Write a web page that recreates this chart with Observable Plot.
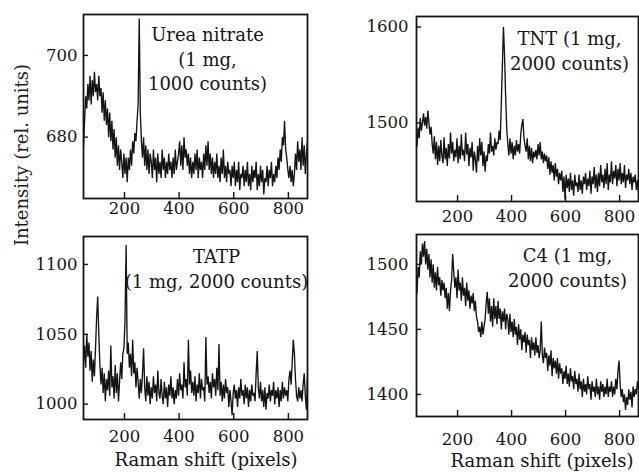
<!DOCTYPE html>
<html><head><meta charset="utf-8">
<script src="https://cdn.jsdelivr.net/npm/d3@7"></script>
<script src="https://cdn.jsdelivr.net/npm/@observablehq/plot@0.6"></script>
<style>
body{margin:0;background:#fff;}
#wrap{position:relative;width:639px;height:472px;overflow:hidden;background:#fff;font-family:"DejaVu Serif",serif;color:#1a1a1a;}
.p{position:absolute;}
#ylab{position:absolute;left:21px;top:155px;transform:translate(-50%,-50%) rotate(-90deg);font-size:18px;white-space:nowrap;}
</style></head><body><div id="wrap"><div id="ylab">Intensity (rel. units)</div></div>
<script>
// Raman shift sampling (pixels)
const shift = [50,54,58,62,66,70,74,78,82,86,
90,94,98,102,106,110,114,118,122,126,
130,134,138,142,146,150,154,158,162,166,
170,174,178,182,186,190,194,198,202,206,
210,214,218,222,226,230,234,238,242,246,
250,254,258,262,266,270,274,278,282,286,
290,294,298,302,306,310,314,318,322,326,
330,334,338,342,346,350,354,358,362,366,
370,374,378,382,386,390,394,398,402,406,
410,414,418,422,426,430,434,438,442,446,
450,454,458,462,466,470,474,478,482,486,
490,494,498,502,506,510,514,518,522,526,
530,534,538,542,546,550,554,558,562,566,
570,574,578,582,586,590,594,598,602,606,
610,614,618,622,626,630,634,638,642,646,
650,654,658,662,666,670,674,678,682,686,
690,694,698,702,706,710,714,718,722,726,
730,734,738,742,746,750,754,758,762,766,
770,774,778,782,786,790,794,798,802,806,
810,814,818,822,826,830,834,838,842,846,
850,854,858,862,866,870];

const ureaNitrate = [678,684,690,687,693,689,695,688,694,690,
696,691,693,689,695,690,692,686,691,684,
689,683,687,680,686,679,684,677,682,675,
680,673,678,672,677,674,670,676,671,675,
669,675,672,677,673,679,676,681,679,684,
688,709,686,679,675,680,673,678,672,677,
671,676,674,670,677,672,675,669,676,671,
674,670,677,672,675,670,674,671,676,672,
674,670,675,671,677,672,674,676,679,673,
678,672,680,675,677,673,676,671,675,670,
674,671,676,672,677,670,675,672,674,670,
676,672,678,673,679,672,676,671,675,670,
674,671,676,670,673,669,675,671,677,670,
673,669,674,671,672,668,673,670,674,668,
672,669,674,667,671,670,673,668,672,669,
674,668,671,667,673,669,672,670,674,667,
671,668,673,669,672,666,670,669,673,668,
672,670,674,668,671,669,673,670,675,672,
677,674,680,678,684,677,675,672,670,673,
669,672,668,671,676,672,679,674,677,672,
680,673,678,671,676,679];

const tnt = [1476,1495,1484,1505,1492,1500,1510,1497,1506,1494,
1513,1500,1488,1496,1478,1468,1486,1462,1480,1456,
1476,1460,1482,1466,1458,1485,1462,1474,1455,1478,
1463,1490,1468,1480,1460,1472,1464,1484,1458,1476,
1462,1488,1466,1472,1460,1490,1467,1478,1455,1474,
1464,1480,1450,1470,1462,1448,1476,1460,1484,1466,
1480,1455,1470,1449,1466,1460,1478,1468,1490,1470,
1476,1466,1484,1472,1480,1478,1492,1482,1520,1560,
1600,1570,1528,1495,1478,1466,1484,1468,1480,1462,
1476,1466,1482,1470,1478,1468,1488,1498,1504,1484,
1476,1470,1484,1462,1476,1460,1474,1458,1470,1464,
1472,1462,1478,1466,1480,1462,1470,1458,1468,1460,
1466,1452,1464,1446,1460,1448,1456,1440,1458,1444,
1452,1436,1448,1440,1450,1428,1444,1420,1446,1432,
1442,1428,1448,1430,1440,1424,1446,1434,1438,1428,
1446,1430,1440,1426,1444,1436,1448,1430,1442,1434,
1450,1426,1444,1436,1454,1432,1446,1428,1448,1434,
1456,1438,1446,1432,1452,1436,1458,1430,1446,1438,
1460,1436,1450,1442,1456,1434,1452,1440,1458,1436,
1448,1438,1456,1432,1446,1440,1452,1436,1448,1430,
1444,1438,1446,1430,1440,1428];

const tatp = [1030,1042,1026,1050,1034,1044,1024,1038,1016,1032,
1020,1040,1062,1077,1050,1028,1014,1026,1008,1022,
1002,1018,1010,1024,1006,1042,1012,1020,1004,1028,
1008,1022,1002,1016,1030,1018,1036,1040,1060,1114,
1036,1044,1026,1036,1020,1046,1022,1030,1012,1026,
1016,1004,1018,1008,1022,1040,1012,1002,1020,1006,
1016,1000,1012,1004,1020,1008,1014,1002,1024,1008,
1004,1018,1006,1000,1016,1004,1012,998,1014,1006,
1020,1004,1012,1000,1010,1004,1018,1006,1022,1010,
1014,1004,1030,1012,1018,1006,1046,1014,1024,1008,
1016,1006,1020,1002,1014,1008,1022,1004,1018,1010,
1012,1002,1048,1014,1020,1008,1016,1004,1022,1012,
1018,1006,1026,1010,1043,1006,1016,1002,1014,1004,
1018,1008,1012,998,1010,1002,992,1008,1014,1004,
1010,998,1012,1004,1018,1006,1010,1000,1014,1004,
1012,998,1010,1002,1014,1006,1008,1002,1022,1038,
1012,1004,1016,1002,1010,998,1012,996,1008,1004,
1014,1002,1010,1006,1016,1000,1010,1004,1012,998,
1010,1002,1016,1004,1012,1006,1010,1002,1018,1024,
1014,1030,1046,1036,1018,1006,1002,1012,1004,1010,
1002,1014,1022,1006,996,1020];

const c4 = [1478,1498,1490,1510,1500,1516,1506,1518,1500,1512,
1496,1508,1490,1504,1486,1500,1482,1494,1480,1498,
1484,1490,1476,1488,1480,1486,1474,1482,1466,1478,
1464,1480,1488,1508,1494,1482,1490,1474,1496,1480,
1486,1472,1490,1476,1482,1468,1486,1472,1480,1466,
1476,1470,1478,1464,1472,1460,1456,1448,1452,1444,
1456,1446,1452,1458,1470,1479,1462,1474,1456,1468,
1452,1474,1458,1468,1454,1472,1458,1466,1450,1464,
1456,1466,1450,1462,1458,1446,1462,1448,1456,1444,
1458,1446,1452,1438,1454,1442,1450,1434,1446,1440,
1448,1432,1446,1438,1442,1428,1444,1434,1440,1430,
1444,1432,1438,1428,1434,1456,1430,1424,1436,1428,
1432,1418,1430,1422,1434,1414,1428,1420,1426,1416,
1428,1412,1424,1416,1420,1408,1418,1412,1422,1408,
1416,1406,1420,1410,1414,1404,1418,1408,1412,1402,
1416,1404,1410,1398,1412,1402,1408,1400,1414,1404,
1408,1396,1410,1402,1406,1398,1412,1400,1406,1396,
1410,1402,1408,1398,1406,1400,1412,1398,1406,1402,
1410,1398,1406,1400,1412,1404,1418,1426,1408,1398,
1404,1394,1400,1388,1398,1392,1404,1396,1402,1390,
1406,1398,1404,1400,1410,1404];

const xTicks = [200,400,600,800];
const ureaTicks = [680,700];
const tntTicks = [1500,1600];
const tatpTicks = [1000,1050,1100];
const c4Ticks = [1400,1450,1500];

const titles = {
  urea: "Urea nitrate\n(1 mg,\n1000 counts)",
  tnt: "TNT (1 mg,\n2000 counts)",
  tatp: "TATP\n(1 mg, 2000 counts)",
  c4: "C4 (1 mg,\n2000 counts)"
};
const xLabel = "Raman shift (pixels)";

const INK = "#141414";
const fmt = d3.format("d");

function panel(o) {
  const fw = o.width - o.ml - o.mr, fh = o.height - o.mt - o.mb;
  const data = shift.map((s, i) => ({s, v: o.values[i]}));
  const marks = [
    Plot.line(data, {x: "s", y: "v", stroke: INK, strokeWidth: 1.35, strokeLinejoin: "miter", clip: true}),
    Plot.frame({stroke: INK, strokeWidth: 1.8}),
    Plot.tickX(xTicks, {x: d => d, stroke: INK, strokeWidth: 1.4, insetTop: fh - 6}),
    Plot.tickY(o.yTicks, {y: d => d, stroke: INK, strokeWidth: 1.4, insetRight: fw - 5}),
    Plot.axisX({ticks: xTicks, tickSize: 0, tickPadding: o.xPad, fontSize: 16.5, label: null, tickFormat: fmt}),
    Plot.axisY({ticks: o.yTicks, tickSize: 0, tickPadding: o.yPad, fontSize: 16.5, label: null, tickFormat: fmt}),
    Plot.text([o.title], {frameAnchor: "top-left", dx: o.tdx, dy: o.tdy, textAnchor: "middle", lineAnchor: "top", lineHeight: 1.37, fontSize: 18, fill: INK})
  ];
  if (o.xlabel) marks.push(Plot.text([o.xlabel], {frameAnchor: "bottom-left", dx: o.ldx, dy: o.ldy, textAnchor: "middle", lineAnchor: "bottom", fontSize: 18, fill: INK}));
  const svg = Plot.plot({
    width: o.width, height: o.height,
    marginTop: o.mt, marginRight: o.mr, marginBottom: o.mb, marginLeft: o.ml,
    x: {domain: o.xDomain},
    y: {domain: o.yDomain},
    style: {fontFamily: "DejaVu Serif, serif", fontSize: "16.5px", color: INK, background: "transparent", overflow: "visible"},
    marks
  });
  svg.classList.add("p");
  svg.style.left = o.left + "px";
  svg.style.top = o.top + "px";
  document.getElementById("wrap").appendChild(svg);
}

panel({values: ureaNitrate, yTicks: ureaTicks, xDomain: [50, 870], yDomain: [665, 710],
  left: 0, top: 0, width: 320, height: 230, mt: 14, mr: 13, mb: 32, ml: 83,
  xPad: 4, yPad: 6, title: titles.urea, tdx: 124, tdy: 9});
panel({values: tnt, yTicks: tntTicks, xDomain: [48, 870], yDomain: [1418, 1611],
  left: 320, top: 0, width: 319, height: 230, mt: 16, mr: 1, mb: 29, ml: 96,
  xPad: 9, yPad: 8, title: titles.tnt, tdx: 153, tdy: 11});
panel({values: tatp, yTicks: tatpTicks, xDomain: [50, 870], yDomain: [989, 1120],
  left: 0, top: 230, width: 320, height: 242, mt: 6, mr: 13, mb: 53, ml: 83,
  xPad: 11, yPad: 6, title: titles.tatp, tdx: 133, tdy: 9,
  xlabel: xLabel, ldx: 122.5, ldy: 46.5});
panel({values: c4, yTicks: c4Ticks, xDomain: [48, 870], yDomain: [1383, 1523],
  left: 320, top: 230, width: 319, height: 242, mt: 4, mr: 1, mb: 56, ml: 96,
  xPad: 17, yPad: 8, title: titles.c4, tdx: 151, tdy: 10,
  xlabel: xLabel, ldx: 125.5, ldy: 50});
</script>
</body></html>
